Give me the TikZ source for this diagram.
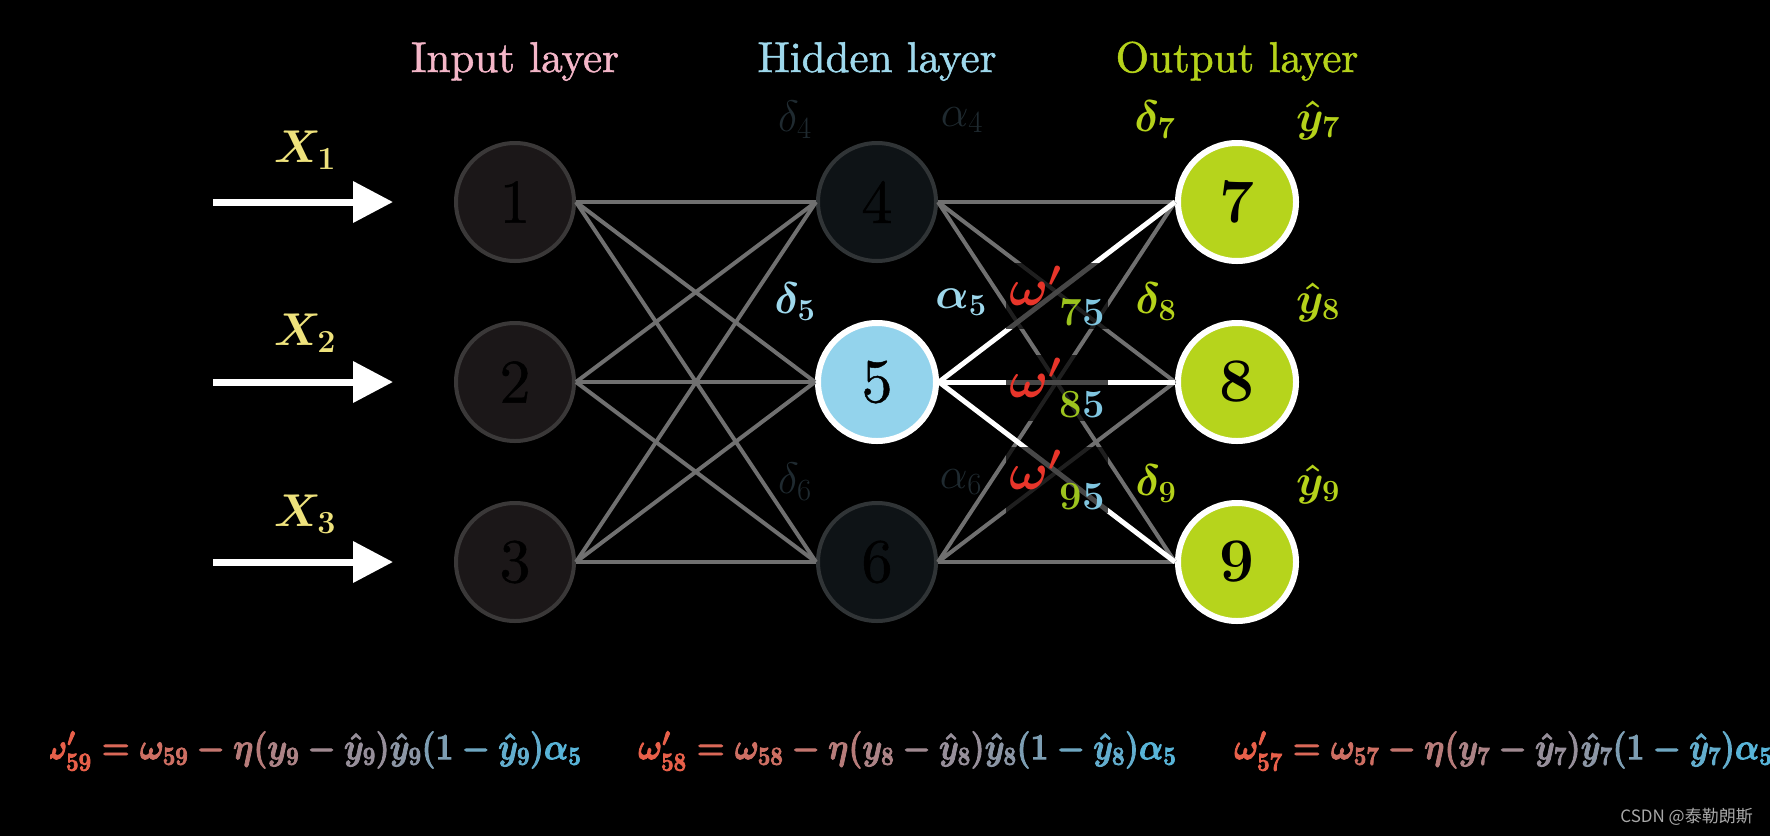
\RequirePackage{fix-cm}
\documentclass[tikz,border=0pt]{standalone}
\usepackage{amsmath}
\usepackage{graphicx}
\usepackage{fontspec}
\newfontfamily\cjkfont{Noto Sans CJK SC}
\newfontfamily\headfont{lmroman10-regular.otf}[FakeBold=1.2]
\newfontfamily\numfont{lmroman10-regular.otf}[FakeBold=0.8]
\usetikzlibrary{arrows.meta}
\definecolor{pinkT}{HTML}{F4B6C8}
\definecolor{blueT}{HTML}{9ED8EC}
\definecolor{greenT}{HTML}{B5D21A}
\definecolor{outF}{HTML}{B6D41C}
\definecolor{hidF}{HTML}{93D3EC}
\definecolor{dinF}{HTML}{1B1718}
\definecolor{dinD}{HTML}{3A3838}
\definecolor{dhF}{HTML}{0E1316}
\definecolor{dhD}{HTML}{303436}
\definecolor{edgeG}{HTML}{707070}
\definecolor{dimT}{HTML}{1F2A30}
\definecolor{xT}{HTML}{EEE27C}
\definecolor{wRed}{HTML}{E8352A}
\definecolor{subG}{HTML}{9CC31E}
\definecolor{subB}{HTML}{80C6E0}
\definecolor{colA}{HTML}{E8604A}
\definecolor{colB}{HTML}{58B4D8}
\definecolor{wmG}{HTML}{A8A8A8}
\newcommand{\gcol}[2]{{\color{colA!#1!colB}#2}}
\newcommand{\gbin}[2]{\mathbin{\gcol{#1}{#2}}}
\newcommand{\grel}[2]{\mathrel{\gcol{#1}{#2}}}
\newcommand{\updrule}[1]{\resizebox{538pt}{\height}{\special{pdf:literal direct 2 Tr 0.9 w}\boldmath$\gcol{100}{\omega'_{5#1}}\grel{90}{=}\gcol{82}{\omega_{5#1}}\gbin{74}{-}\gcol{66}{\eta(}\gcol{58}{y_{#1}}\gbin{50}{-}\gcol{44}{\hat{y}_{#1})}\gcol{36}{\hat{y}_{#1}}\gcol{26}{(1}\gbin{16}{-}\gcol{8}{\hat{y}_{#1})}\gcol{0}{\alpha_5}$\special{pdf:literal direct 0 Tr}}}
\newcommand{\wlab}[1]{\textcolor{wRed}{\fontsize{52}{52}\selectfont\boldmath$\omega'$}\hspace{-2pt}\raisebox{-20pt}{\fontsize{40}{40}\selectfont\bfseries\textcolor{subG}{#1}\textcolor{subB}{5}}}
\tikzset{
  neuron/.style={circle, minimum size=118pt, inner sep=0pt, font=\numfont\fontsize{62}{62}\selectfont, text=black},
  darkin/.style={neuron, fill=dinF, draw=dinD, line width=4pt},
  darkhid/.style={neuron, fill=dhF, draw=dhD, line width=4pt},
  activehid/.style={neuron, fill=hidF, draw=white, line width=6pt},
  outn/.style={neuron, fill=outF, draw=white, line width=6pt, font=\fontsize{62}{62}\selectfont\bfseries},
  edge/.style={draw=edgeG, line width=4pt},
  hotedge/.style={draw=white, line width=5pt},
  inarrow/.style={draw=white, line width=7pt, -{Triangle[length=40pt,width=40pt]}},
  heading/.style={font=\headfont\fontsize{43}{50}\selectfont, anchor=base, inner sep=0pt},
  glabel/.style={font=\fontsize{44}{44}\selectfont, inner sep=0pt},
  bglabel/.style={font=\fontsize{44}{44}\selectfont\boldmath, inner sep=0pt},
  xlabel/.style={font=\fontsize{46}{46}\selectfont\boldmath, text=xT, inner sep=0pt},
  wlabel/.style={fill=black, fill opacity=0.72, text opacity=1, inner sep=3pt},
  formula/.style={anchor=west, font=\fontsize{37}{42}\selectfont, inner sep=0pt},
}
\begin{document}
\begin{tikzpicture}[x=1pt,y=-1pt]
\fill[black] (0,0) rectangle (1770,836);
\useasboundingbox (0,0) rectangle (1770,836);
\clip (0,0) rectangle (1770,836);

% headings
\node[heading, text=pinkT] (hin) at (515,72) {Input layer};
\node[heading, text=blueT] (hhid) at (877,72) {Hidden layer};
\node[heading, text=greenT] (hout) at (1237,72) {Output layer};

% neuron positions
\coordinate (p1) at (515,202); \coordinate (p2) at (515,382); \coordinate (p3) at (515,562);
\coordinate (p4) at (877,202); \coordinate (p5) at (877,382); \coordinate (p6) at (877,562);
\coordinate (p7) at (1237,202); \coordinate (p8) at (1237,382); \coordinate (p9) at (1237,562);

% neurons
\node[darkin] (n1) at (p1) {1};
\node[darkin] (n2) at (p2) {2};
\node[darkin] (n3) at (p3) {3};
\node[darkhid] (n4) at (p4) {4};
\node[activehid] (n5) at (p5) {5};
\node[darkhid] (n6) at (p6) {6};
\node[outn] (n7) at (p7) {7};
\node[outn] (n8) at (p8) {8};
\node[outn] (n9) at (p9) {9};

% edges input -> hidden
\foreach \a in {1,2,3}{\foreach \b in {4,5,6}{\draw[edge] (n\a.east) -- (n\b.west);}}
% edges hidden -> output
\foreach \a in {4,6}{\foreach \b in {7,8,9}{\draw[edge] (n\a.east) -- (n\b.west);}}
\foreach \b in {7,8,9}{\draw[hotedge] (n5.east) -- (n\b.west);}

% weight labels
\node[wlabel] (w75) at (1057,296) {\wlab{7}};
\node[wlabel] (w85) at (1057,388) {\wlab{8}};
\node[wlabel] (w95) at (1057,480) {\wlab{9}};

% input arrows
\foreach \i/\y in {1/202,2/382,3/562}{
  \coordinate (as\i) at (213,\y);
  \coordinate (ae\i) at (393,\y);
  \draw[inarrow] (as\i) -- (ae\i);
}
\node[xlabel] (x1) at (305,150) {$X_1$};
\node[xlabel] (x2) at (305,333) {$X_2$};
\node[xlabel] (x3) at (305,514) {$X_3$};

% hidden layer greek labels
\node[glabel, text=dimT] (d4) at (795,120) {$\delta_4$};
\node[glabel, text=dimT] (a4) at (962,120) {$\alpha_4$};
\node[bglabel, text=blueT] (d5) at (795,302) {$\delta_5$};
\node[bglabel, text=blueT] (a5) at (961,302) {$\alpha_5$};
\node[glabel, text=dimT] (d6) at (795,482) {$\delta_6$};
\node[glabel, text=dimT] (a6) at (961,482) {$\alpha_6$};

% output layer labels
\node[bglabel, text=greenT] (d7) at (1155,120) {$\delta_7$};
\node[bglabel, text=greenT] (y7) at (1318,120) {$\hat{y}_7$};
\node[bglabel, text=greenT] (d8) at (1156,302) {$\delta_8$};
\node[bglabel, text=greenT] (y8) at (1318,302) {$\hat{y}_8$};
\node[bglabel, text=greenT] (d9) at (1156,484) {$\delta_9$};
\node[bglabel, text=greenT] (y9) at (1318,484) {$\hat{y}_9$};

% update rules
\begin{scope}
\clip (50,690) rectangle (700,810);
\node[formula] (f9) at (43,751) {\updrule{9}};
\end{scope}
\node[formula] (f8) at (638,751) {\updrule{8}};
\node[formula] (f7) at (1234,751) {\updrule{7}};

% watermark
\node[font=\cjkfont\fontsize{17}{17}\selectfont, text=wmG, anchor=east, inner sep=0pt] (wm) at (1753,817) {CSDN @泰勒朗斯};
\end{tikzpicture}
\end{document}
